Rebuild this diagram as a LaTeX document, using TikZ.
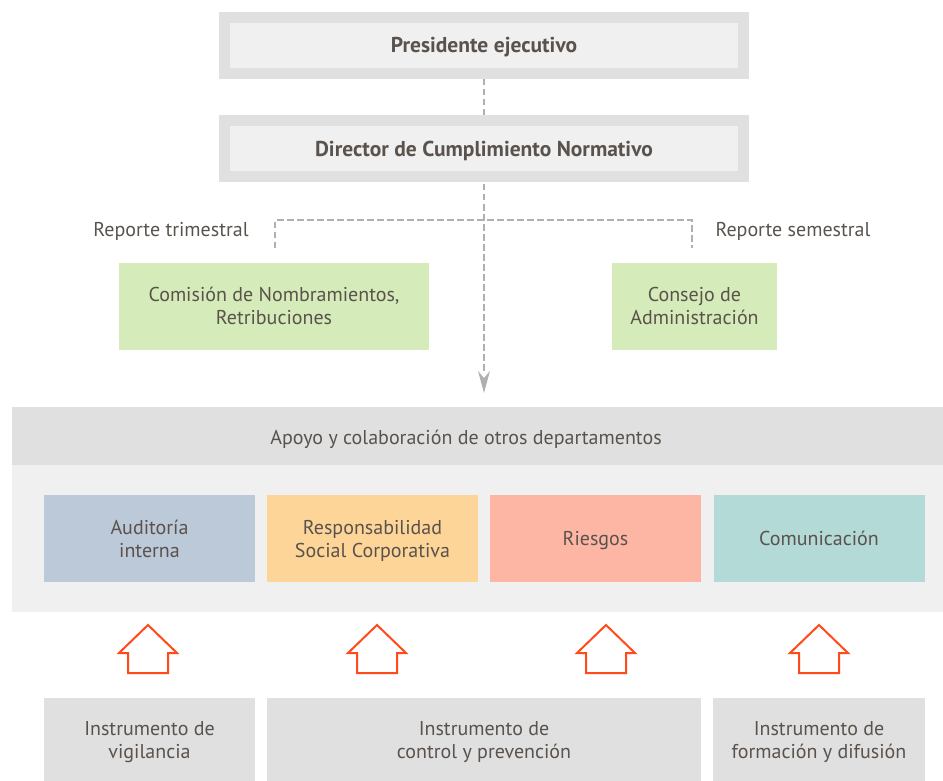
\documentclass[tikz,border=0pt]{standalone}
\usepackage{fontspec}
\setmainfont{PT Sans}
\usetikzlibrary{arrows.meta}
\definecolor{txt}{HTML}{5A524C}
\definecolor{frame}{HTML}{E0E0E0}
\definecolor{light}{HTML}{F0F0F0}
\definecolor{green}{HTML}{D5EBB9}
\definecolor{blue}{HTML}{BCC9D8}
\definecolor{yellow}{HTML}{FDD598}
\definecolor{salmon}{HTML}{FDB6A3}
\definecolor{teal}{HTML}{B3DAD7}
\definecolor{dashgrey}{HTML}{B0B0B0}
\definecolor{orange}{HTML}{FF4A1C}
\newcommand{\mytxt}[1]{\raisebox{-2.5pt}[\height][\depth]{\begin{tabular}{@{}c@{}}#1\end{tabular}}}
\tikzset{
  every node/.style={text=txt, font=\fontsize{20}{23}\selectfont, align=center, inner sep=0pt},
  topbox/.style={fill=light, draw=frame, line width=11pt, minimum width=519pt, minimum height=56pt, font=\bfseries\fontsize{21.5}{24}\selectfont},
  colbox/.style={minimum width=211pt, minimum height=87pt},
  conn/.style={draw=dashgrey, line width=2pt, dash pattern=on 6.5pt off 3.5pt},
  uparrow/.pic={\draw[orange, line width=2pt, fill=white, line join=miter] (-20,0) -- (-20,-20) -- (-29,-20) -- (0,-48) -- (29,-20) -- (20,-20) -- (20,0) -- cycle;}
}
\begin{document}
\begin{tikzpicture}[x=1pt,y=-1pt]
\useasboundingbox (0,0) rectangle (943,781);
% top boxes
\node[topbox] (pres) at (484,45.5) {\mytxt{Presidente ejecutivo}};
\node[topbox] (dir) at (484,149) {\mytxt{Director de Cumplimiento Normativo}};
% green boxes
\node[fill=green, minimum width=310pt, minimum height=87pt] (com) at (274,306) {\mytxt{Comisión de Nombramientos,\\Retribuciones}};
\node[fill=green, minimum width=165pt, minimum height=87pt] (con) at (694.5,306) {\mytxt{Consejo de\\Administración}};
% labels
\node (lt) at (171,229) {\mytxt{Reporte trimestral}};
\node (ls) at (793,229) {\mytxt{Reporte semestral}};
% big grey area
\node[fill=light, minimum width=931pt, minimum height=205pt, anchor=north west] (area) at (12,407) {};
\node[fill=frame, minimum width=931pt, minimum height=58pt, anchor=north west] (band) at (12,407) {};
\node (apoyo) at (466,437) {\mytxt{Apoyo y colaboración de otros departamentos}};
% departments
\node[colbox, fill=blue] (aud) at (149.5,538.5) {\mytxt{Auditoría\\interna}};
\node[colbox, fill=yellow] (rsc) at (372.5,538.5) {\mytxt{Responsabilidad\\Social Corporativa}};
\node[colbox, fill=salmon] (rie) at (595.5,538.5) {\mytxt{Riesgos}};
\node[colbox, fill=teal] (comu) at (819,538.5) {\mytxt{Comunicación}};
% arrows
\pic at (148,673) {uparrow};
\pic at (377,673) {uparrow};
\pic at (606,673) {uparrow};
\pic at (819,673) {uparrow};
% bottom boxes
\node[fill=frame, minimum width=211pt, minimum height=84pt, anchor=north] (i1) at (149.5,698) {\mytxt{Instrumento de\\vigilancia}};
\node[fill=frame, minimum width=434pt, minimum height=84pt, anchor=north] (i2) at (484,698) {\mytxt{Instrumento de\\control y prevención}};
\node[fill=frame, minimum width=212pt, minimum height=84pt, anchor=north] (i3) at (819,698) {\mytxt{Instrumento de\\formación y difusión}};
% connectors
\coordinate (pb) at (484,79);
\coordinate (dt) at (484,115);
\coordinate (db) at (484,184);
\coordinate (tip) at (484,393);
\coordinate (hl) at (275,220);
\coordinate (hr) at (692,220);
\coordinate (vl) at (275,248);
\coordinate (vr) at (692,248);
\draw[conn] (pb) -- (dt);
\draw[conn] (db) -- (484,373);
\draw[conn] (vl) -- (hl) -- (hr) -- (vr);
\fill[dashgrey] (tip) -- (478,371) -- (484,378) -- (490,371) -- cycle;
\end{tikzpicture}
\end{document}
